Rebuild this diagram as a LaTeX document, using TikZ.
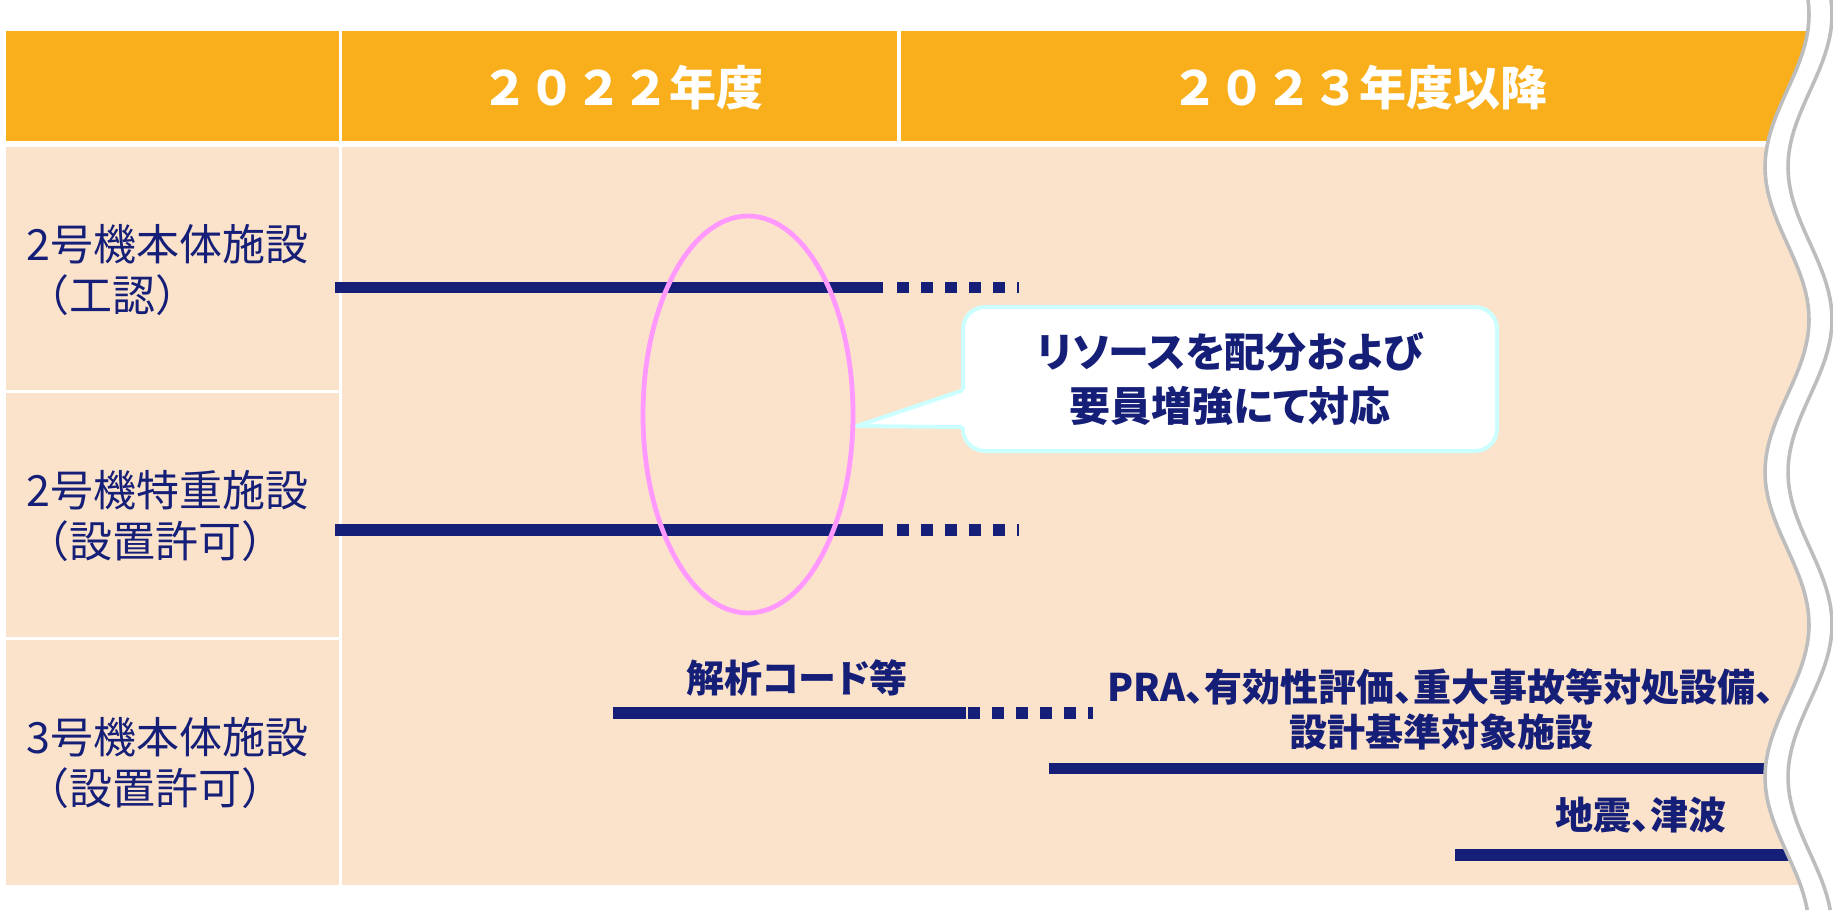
\documentclass[tikz,border=0pt]{standalone}
\usepackage{fontspec}
\newfontfamily\jp{Noto Sans CJK JP}
\newfontfamily\jpp[RawFeature=+palt]{Noto Sans CJK JP}
\usetikzlibrary{shapes.geometric}
\definecolor{hdr}{HTML}{F8AF1B}
\definecolor{peach}{HTML}{FBE3CB}
\definecolor{navy}{HTML}{161F78}
\definecolor{pinkc}{HTML}{FF99FF}
\definecolor{cyanb}{HTML}{CCFFFF}
\definecolor{wavec}{HTML}{BDBDBD}
\begin{document}
\begin{tikzpicture}[x=1pt,y=-1pt,
  cellfill/.style={fill=peach},
  hcell/.style={fill=hdr},
  hdrtext/.style={text=white, font=\jp\bfseries\fontsize{47}{50}\selectfont, inner sep=0pt},
  rowlabel/.style={text=navy, anchor=west, align=left, font=\jp\fontsize{43}{51}\selectfont, inner sep=0pt},
  bar/.style={draw=navy, line width=11.5pt},
  dotbar/.style={draw=navy, line width=11.5pt, dash pattern=on 12pt off 12pt},
  lbl/.style={text=navy, font=\jpp\bfseries\fontsize{38}{45}\selectfont, align=center, inner sep=0pt},
  wavel/.style={draw=wavec, line width=3.6pt},
]
\useasboundingbox (0,0) rectangle (1833,910);
\fill[white] (0,0) rectangle (1833,910);
% header
\fill[hcell] (6,31) rectangle (338.5,141);
\fill[hcell] (341.5,31) rectangle (897.3,141);
\fill[hcell] (900.8,31) rectangle (1833,141);
% body
\fill[cellfill] (6,147) rectangle (338.5,390);
\fill[cellfill] (6,393.3) rectangle (338.5,636.7);
\fill[cellfill] (6,640) rectangle (338.5,885);
\fill[cellfill] (341.5,147) rectangle (1833,885);
% header texts
\node[hdrtext] (y22) at (622,88) {２０２２年度};
\node[hdrtext] (y23) at (1359,88) {２０２３年度以降};
% row labels
\node[rowlabel] (r1) at (26,269.5) {2号機本体施設\\（工認）};
\node[rowlabel] (r2) at (26,515.5) {2号機特重施設\\（設置許可）};
\node[rowlabel] (r3) at (26,762.5) {3号機本体施設\\（設置許可）};
% bars
\draw[bar] (335,287.5) -- (883,287.5);
\draw[dotbar] (897,287.5) -- (1019,287.5);
\draw[bar] (335,530) -- (883,530);
\draw[dotbar] (897,530) -- (1019,530);
\draw[bar] (613,713) -- (966,713);
\draw[dotbar] (968,713) -- (1093,713);
\draw[bar] (1049,768.5) -- (1815,768.5);
\draw[bar] (1455,855) -- (1820,855);
% ellipse
\node[draw=pinkc, line width=4.8pt, ellipse, minimum width=210pt, minimum height=397pt, inner sep=0pt] (focus) at (748,414.5) {};
% callout
\coordinate (tip) at (857,426);
\node[draw=cyanb, line width=4pt, fill=white, rounded corners=22pt, minimum width=534pt, minimum height=144pt, inner sep=0pt,
      text=navy, font=\jpp\bfseries\fontsize{41}{54}\selectfont, align=center] (note) at (1230,379) {リソースを配分および\\要員増強にて対応};
\fill[white] (tip) -- (966,389.5) -- (966,427) -- cycle;
\draw[draw=cyanb, line width=4pt, line join=round, line cap=round] (note.west |- 0,391) -- (tip) -- (note.west |- 0,427);
% texts
\node[lbl] (t1) at (797,678) {解析コード等};
\node[lbl] (t2) at (1441,709.5) {PRA、有効性評価、重大事故等対処設備、\\設計基準対象施設};
\node[lbl] (t3) at (1641,815) {地震、津波};
% wave
\fill[white] plot[domain=0:910,samples=120] ({1787-22*cos(((\x-167)/305)*360)},\x) -- (1833,910) -- (1833,0) -- cycle;
\draw[wavel] plot[domain=0:910,samples=120] ({1787-22*cos(((\x-167)/305)*360)},\x);
\draw[wavel] plot[domain=0:910,samples=120] ({1810-22*cos(((\x-167)/305)*360)},\x);
\end{tikzpicture}
\end{document}
